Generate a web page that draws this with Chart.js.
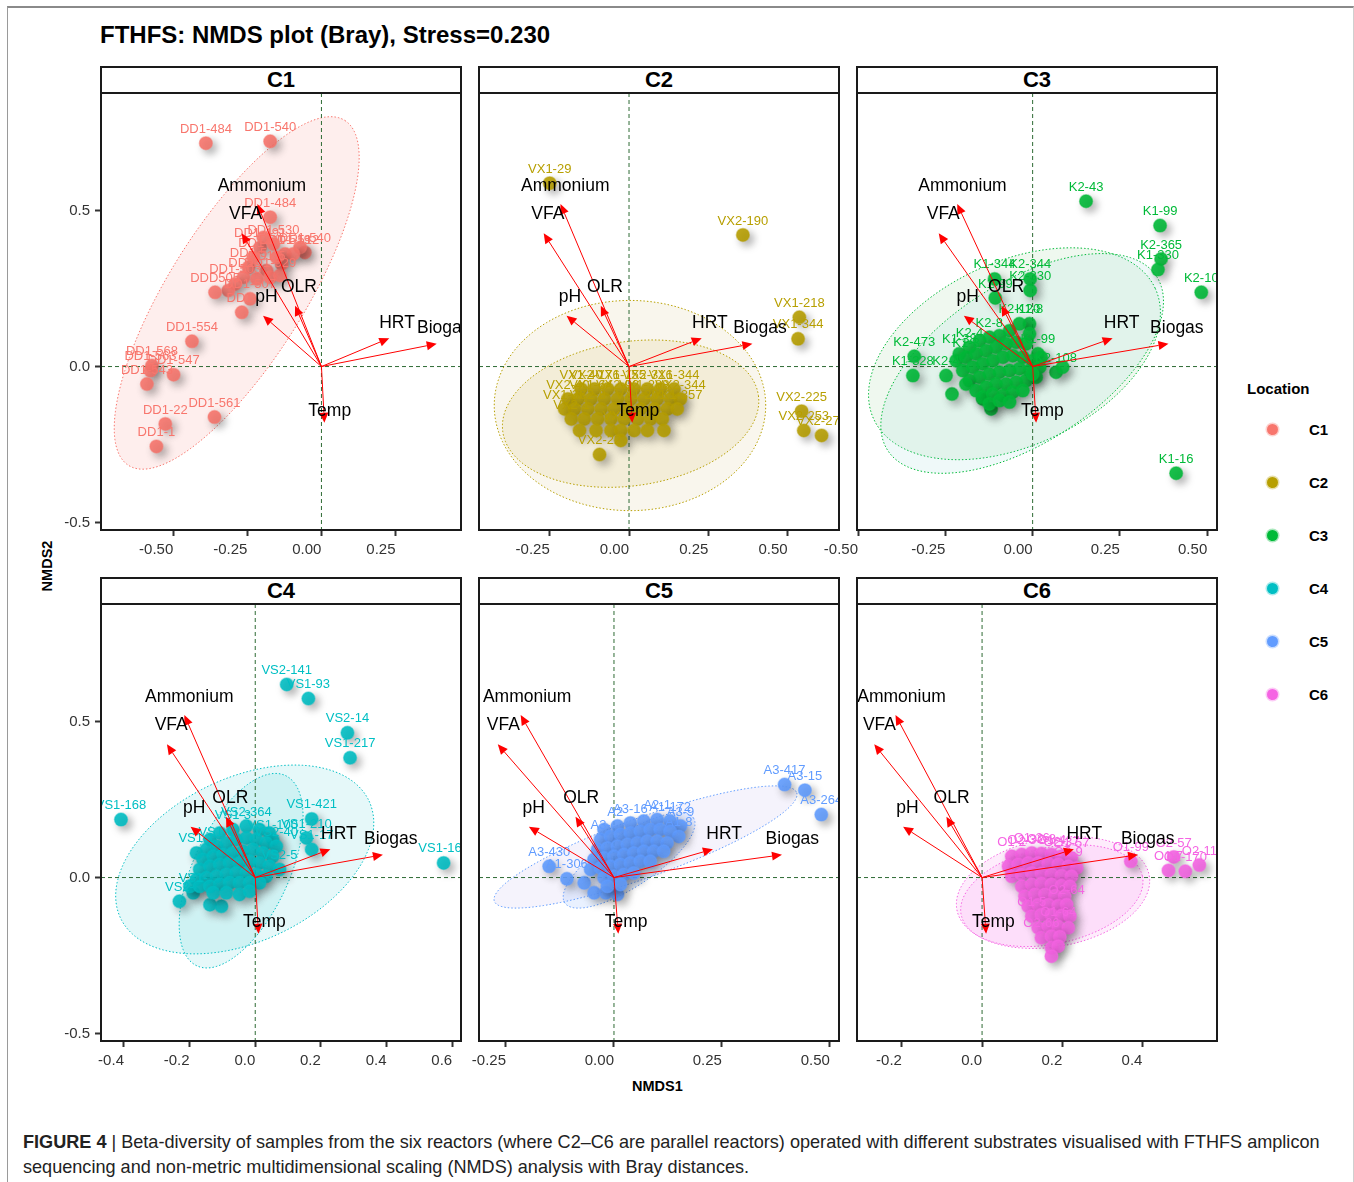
<!DOCTYPE html>
<html><head><meta charset="utf-8">
<script src="https://cdn.jsdelivr.net/npm/chart.js@4.4.1/dist/chart.umd.min.js"></script>
<style>
html,body{margin:0;padding:0;background:#fff;}
body{width:1354px;height:1182px;position:relative;overflow:hidden;font-family:"Liberation Sans",Arial,Helvetica,sans-serif;color:#000;}
#frame{position:absolute;left:7px;top:6px;width:1345px;height:1200px;border-top:2px solid #8a8a8a;border-left:1px solid #9a9a9a;border-right:1px solid #d0d0d0;}
#title{position:absolute;left:100px;top:21px;font-size:24px;font-weight:bold;white-space:nowrap;}
.strip{position:absolute;box-sizing:border-box;height:28px;border:2px solid #1a1a1a;background:#fff;display:flex;align-items:center;justify-content:center;font-weight:bold;font-size:22px;}
canvas{position:absolute;}
.axt{position:absolute;font-weight:bold;font-size:14.5px;white-space:nowrap;}
#legtitle{position:absolute;left:1247px;top:380px;font-weight:bold;font-size:15px;}
.legdot{position:absolute;width:11px;height:11px;border-radius:50%;}
.leglab{position:absolute;left:1309px;font-weight:bold;font-size:15px;}
.cap{position:absolute;left:23px;font-size:18.1px;color:#222;white-space:nowrap;}
</style></head>
<body>
<div id="frame"></div>
<div id="title">FTHFS: NMDS plot (Bray), Stress=0.230</div>
<div class="axt" style="left:22px;top:558px;transform:rotate(-90deg);transform-origin:50% 50%;">NMDS2</div>
<div class="axt" style="left:632px;top:1078px;">NMDS1</div>
<div id="legtitle">Location</div>
<div class="cap" style="top:1132px;"><b>FIGURE 4</b> | Beta-diversity of samples from the six reactors (where C2–C6 are parallel reactors) operated with different substrates visualised with FTHFS amplicon</div>
<div class="cap" style="top:1157px;">sequencing and non-metric multidimensional scaling (NMDS) analysis with Bray distances.</div>
<script>
// ---------------- DATA ----------------
const panelNames = ["C1","C2","C3","C4","C5","C6"];
const groupColors = ["#F8766D","#B79F00","#00BA38","#00BFC4","#619CFF","#F564E3"];

const xTicks = [[-0.5,-0.25,0,0.25],[-0.25,0,0.25,0.5],[-0.5,-0.25,0,0.25,0.5],[-0.4,-0.2,0,0.2,0.4,0.6],[-0.25,0,0.25,0.5],[-0.2,0,0.2,0.4]];
const xTickLabels = [["-0.50","-0.25","0.00","0.25"],["-0.25","0.00","0.25","0.50"],["-0.50","-0.25","0.00","0.25","0.50"],["-0.4","-0.2","0.0","0.2","0.4","0.6"],["-0.25","0.00","0.25","0.50"],["-0.2","0.0","0.2","0.4"]];
const xMin = [-0.744,-0.473,-0.503,-0.470,-0.3125,-0.312];
const xMax = [0.471,0.662,0.528,0.627,0.521,0.586];
const yTicks = [-0.5,0,0.5];
const yTickLabels = ["-0.5","0.0","0.5"];
const yMin = -0.524, yMax = 0.877;

// envfit vectors (identical in every panel)
const envVars = ["Ammonium","VFA","pH","OLR","HRT","Biogas","Temp"];
const envX = [-0.216,-0.269,-0.197,-0.089,0.229,0.389,0.010];
const envY = [0.521,0.427,0.163,0.195,0.091,0.073,-0.180];
const envLabelX = [-0.201,-0.256,-0.186,-0.076,0.255,0.413,0.028];
const envLabelY = [0.578,0.487,0.221,0.256,0.139,0.123,-0.143];

// sample scores [NMDS1, NMDS2, label]
const c1Points = [
 [-0.390,0.716,"DD1-484"],[-0.173,0.722,"DD1-540"],[-0.173,0.479,"DD1-484"],
 [-0.207,0.382,"DD1-491"],[-0.196,0.414,""],[-0.162,0.393,"DD1-530"],[-0.123,0.361,"DD1-519"],
 [-0.056,0.366,"DD1-540"],[-0.072,0.382,""],[-0.095,0.361,"DD1-512"],[-0.134,0.329,""],
 [-0.185,0.308,"DD1-5"],[-0.246,0.318,"DD1-5"],[-0.263,0.286,"DD1-"],[-0.218,0.281,""],
 [-0.173,0.286,"DD1-529"],[-0.140,0.292,""],[-0.230,0.350,"DD1-"],[-0.151,0.350,""],
 [-0.291,0.265,"DD1-503"],[-0.314,0.244,""],[-0.359,0.238,"DDD505"],[-0.241,0.217,"DD1-507"],
 [-0.269,0.174,"DD1-"],[-0.437,0.081,"DD1-554"],[-0.572,0.003,"DD1-568"],[-0.577,-0.013,"DD1-563"],
 [-0.589,-0.056,"DD1-543"],[-0.499,-0.026,"DD1-547"],[-0.361,-0.162,"DD1-561"],
 [-0.527,-0.184,"DD1-22"],[-0.557,-0.256,"DD1-1"]
];
const c2Points = [
 [-0.250,0.588,"VX1-29"],[0.359,0.422,"VX2-190"],[0.537,0.158,"VX1-218"],[0.533,0.089,"VX1-344"],
 [0.544,-0.143,"VX2-225"],[0.551,-0.205,"VX2-253"],[0.607,-0.221,"VX2-274"],[-0.093,-0.282,"VX2-22"],
 [-0.151,-0.072,"VX1-40"],[-0.109,-0.072,"VX2-176"],[-0.067,-0.072,""],[-0.026,-0.072,"VX1-155"],[0.016,-0.072,""],[0.058,-0.072,"VX2-316"],[0.099,-0.072,""],[0.142,-0.072,"VX1-344"],
 [-0.193,-0.104,"VX2-40"],[-0.161,-0.104,""],[-0.120,-0.104,"VX1-64"],[-0.078,-0.104,""],[-0.036,-0.104,"VX2-92"],[0.006,-0.104,""],[0.048,-0.104,"VX1-288"],[0.089,-0.104,""],[0.131,-0.104,""],[0.162,-0.104,"VX2-344"],
 [-0.203,-0.136,"VX1-36"],[-0.172,-0.136,""],[-0.130,-0.136,"VX2-8"],[-0.088,-0.136,""],[-0.047,-0.136,""],[-0.005,-0.136,""],[0.037,-0.136,"VX1-201"],[0.079,-0.136,""],[0.121,-0.136,""],[0.152,-0.136,"VX1-357"],
 [-0.182,-0.168,"VX2-1"],[-0.141,-0.168,""],[-0.099,-0.168,""],[-0.057,-0.168,""],[-0.015,-0.168,""],[0.027,-0.168,""],[0.068,-0.168,""],[0.105,-0.168,""],
 [-0.156,-0.205,""],[-0.104,-0.205,""],[-0.057,-0.205,""],[-0.026,-0.205,"VX2-9"],[0.016,-0.205,""],[0.058,-0.205,""],[0.110,-0.205,""],
 [-0.026,-0.237,""]
];
const c3Points = [
 [0.153,0.530,"K2-43"],[0.365,0.452,"K1-99"],[0.368,0.345,"K2-365"],[0.359,0.311,"K1-330"],
 [0.483,0.238,"K2-10"],[0.411,-0.342,"K1-16"],[-0.339,0.033,"K2-473"],[-0.343,-0.029,"K1-328"],
 [-0.231,-0.088,""],[-0.248,-0.029,"K2-4"],[-0.109,0.281,"K1-344"],[-0.107,0.220,"K1-99"],
 [-0.007,0.281,"K2-344"],[-0.007,0.244,"K2-330"],[-0.009,0.137,"K1-8"],[0.067,-0.018,"K2-108"],
 [0.086,-0.002,""],[-0.119,-0.136,""],[-0.143,-0.104,""],
 [-0.210,0.041,"K1-38"],[-0.181,0.062,"K2-4"],[-0.152,0.083,""],[-0.124,0.094,"K2-8"],[-0.095,0.099,""],[-0.066,0.115,""],[-0.038,0.137,"K2-120"],[-0.009,0.105,""],
 [-0.219,0.019,""],[-0.191,0.030,"K1-3"],[-0.162,0.041,""],[-0.133,0.051,""],[-0.105,0.062,""],[-0.076,0.073,""],[-0.047,0.078,""],[-0.019,0.073,""],[0.015,0.041,"K1-99"],
 [-0.200,-0.013,""],[-0.171,-0.002,""],[-0.143,0.009,""],[-0.114,0.019,""],[-0.085,0.030,""],[-0.057,0.035,""],[-0.028,0.030,""],[0.000,0.019,""],[0.024,0.030,""],
 [-0.181,-0.045,""],[-0.152,-0.034,""],[-0.124,-0.024,""],[-0.095,-0.018,""],[-0.066,-0.013,""],[-0.038,-0.007,""],[-0.009,-0.013,""],[0.020,-0.002,""],
 [-0.191,-0.056,""],[-0.162,-0.077,""],[-0.133,-0.066,""],[-0.105,-0.056,""],[-0.076,-0.056,""],[-0.047,-0.050,""],[-0.019,-0.045,""],[0.010,-0.034,""],
 [-0.143,-0.098,""],[-0.114,-0.088,""],[-0.085,-0.093,""],[-0.057,-0.082,""],[-0.028,-0.077,""],
 [-0.124,-0.120,""],[-0.095,-0.109,""],[-0.066,-0.114,""],[0.000,-0.024,""]
];
const c4Points = [
 [0.096,0.619,"VS2-141"],[0.162,0.574,"VS1-93"],[0.281,0.464,"VS2-14"],[0.289,0.384,"VS1-217"],
 [-0.409,0.186,"VS1-168"],[0.172,0.188,"VS1-421"],[0.156,0.127,"VS1-210"],[0.172,0.090,"VS1-17"],
 [0.574,0.047,"VS1-163"],[-0.179,0.079,"VS1-1"],[-0.231,-0.076,"VS2-"],[-0.189,-0.049,"VS1-"],
 [-0.138,-0.087,""],[-0.103,-0.092,""],
 [-0.138,0.122,""],[-0.108,0.143,""],[-0.068,0.154,"VS1-3"],[-0.027,0.165,"VS2-364"],[0.013,0.154,""],[0.043,0.143,""],[0.053,0.122,"VS1-100"],
 [-0.149,0.090,""],[-0.118,0.100,"VS1-9"],[-0.088,0.111,""],[-0.058,0.122,""],[-0.027,0.127,""],[0.003,0.122,""],[0.033,0.111,""],[0.064,0.100,"VS2-40"],
 [-0.159,0.058,""],[-0.128,0.068,""],[-0.098,0.074,""],[-0.068,0.079,""],[-0.037,0.084,""],[-0.007,0.090,""],[0.023,0.079,""],[0.053,0.068,""],
 [-0.169,0.026,""],[-0.138,0.036,""],[-0.108,0.042,""],[-0.078,0.047,""],[-0.048,0.047,""],[-0.017,0.052,""],[0.013,0.047,""],[0.043,0.036,""],[0.074,0.026,"VS2-5"],
 [-0.179,-0.006,""],[-0.149,-0.001,""],[-0.118,0.004,""],[-0.088,0.010,""],[-0.058,0.015,""],[-0.027,0.015,""],[0.003,0.010,""],[0.033,0.004,""],
 [-0.199,-0.028,""],[-0.169,-0.028,""],[-0.138,-0.028,""],[-0.108,-0.022,""],[-0.078,-0.017,""],[-0.048,-0.017,""],[-0.017,-0.017,""],[0.013,-0.017,""],
 [-0.128,-0.049,""],[-0.088,-0.049,""],[-0.048,-0.054,""],[-0.017,-0.044,""]
];
const c5Points = [
 [0.395,0.298,"A3-417"],[0.442,0.280,"A3-15"],[0.480,0.202,"A3-264"],[-0.150,0.036,"A3-430"],
 [-0.109,-0.004,"A1-306"],[-0.069,-0.017,""],[-0.046,-0.049,""],[-0.019,-0.049,""],[0.008,-0.054,""],
 [-0.023,0.154,""],[0.008,0.165,"A2-"],[0.038,0.175,"A3-16"],[0.069,0.181,""],[0.100,0.186,"A2-1"],[0.130,0.181,"A1-172"],[0.154,0.165,"A3-9"],
 [-0.031,0.122,"A3-"],[-0.008,0.132,""],[0.015,0.138,""],[0.038,0.143,""],[0.061,0.148,""],[0.084,0.154,""],[0.107,0.154,""],[0.130,0.148,""],[0.150,0.132,"A1-8"],
 [-0.038,0.090,""],[-0.015,0.095,""],[0.008,0.100,""],[0.031,0.106,""],[0.054,0.111,""],[0.077,0.116,""],[0.100,0.116,""],[0.123,0.111,""],
 [-0.046,0.058,""],[-0.023,0.063,""],[0.000,0.068,""],[0.023,0.074,""],[0.046,0.079,""],[0.069,0.084,""],[0.092,0.084,""],[0.115,0.084,""],
 [-0.054,0.026,""],[-0.031,0.031,""],[-0.008,0.036,""],[0.015,0.042,""],[0.038,0.047,""],[0.061,0.052,""],[0.084,0.052,""],
 [-0.023,-0.001,""],[0.000,0.004,""],[0.023,0.010,""],[0.046,0.015,""],[-0.015,-0.028,""],[0.015,-0.022,""]
];
const c6Points = [
 [0.371,0.052,"O1-99"],[0.478,0.066,"O2-57"],[0.465,0.023,"O1-7"],[0.507,0.020,"O1-170"],[0.542,0.040,"O2-11"],
 [0.074,0.068,"O1-2"],[0.099,0.074,"O2-3"],[0.124,0.079,"O1-36"],[0.148,0.077,"O2-8"],[0.173,0.074,"O1-4"],[0.198,0.068,"O2-37"],[0.223,0.063,"O1-57"],
 [0.066,0.036,""],[0.090,0.042,""],[0.115,0.047,""],[0.140,0.047,""],[0.165,0.045,""],[0.190,0.042,""],[0.215,0.036,"O2-9"],[0.236,0.031,""],
 [0.074,0.004,""],[0.099,0.010,""],[0.124,0.015,""],[0.148,0.013,""],[0.173,0.010,""],[0.198,0.006,""],[0.223,0.004,""],
 [0.099,-0.028,""],[0.124,-0.022,""],[0.148,-0.019,""],[0.173,-0.022,""],[0.198,-0.026,""],[0.219,-0.028,""],
 [0.107,-0.060,""],[0.132,-0.054,""],[0.157,-0.054,""],[0.182,-0.058,""],[0.206,-0.060,""],
 [0.115,-0.092,""],[0.140,-0.087,""],[0.165,-0.087,""],[0.190,-0.090,""],[0.211,-0.087,"O2-64"],
 [0.124,-0.124,"O1-5"],[0.148,-0.119,""],[0.173,-0.119,""],[0.198,-0.122,""],[0.219,-0.124,""],
 [0.140,-0.161,""],[0.165,-0.156,""],[0.190,-0.158,"O1-64"],[0.215,-0.161,""],
 [0.148,-0.193,"O2-66"],[0.173,-0.188,""],[0.194,-0.190,""],[0.173,-0.225,""],[0.190,-0.220,""],[0.173,-0.252,""]
];
const panelPoints = [c1Points,c2Points,c3Points,c4Points,c5Points,c6Points];

// 95% ellipses: [centreX, centreY, u1X, u1Y, u2X, u2Y] (conjugate semi-diameters, data units)
const c1Ellipses = [[-0.286,0.236,0.365,0.553,0.194,-0.116]];
const c2Ellipses = [[0.003,-0.125,0.428,0.000,0.000,0.337],[0.005,-0.151,0.403,0.058,0.031,-0.229]];
const c3Ellipses = [[-0.052,0.041,0.403,0.210,0.111,-0.267],[-0.030,0.010,0.385,0.279,0.125,-0.215]];
const c4Ellipses = [[-0.032,0.058,0.379,0.187,0.105,-0.238],[-0.043,0.022,0.135,0.305,0.132,-0.065]];
const c5Ellipses = [[0.073,0.098,0.350,0.174,0.023,-0.090],[0.035,0.055,0.149,0.136,0.033,-0.070]];
const c6Ellipses = [[0.177,-0.048,0.240,0.054,0.023,-0.171],[0.174,-0.058,0.226,0.062,0.025,-0.151]];
const panelEllipses = [c1Ellipses,c2Ellipses,c3Ellipses,c4Ellipses,c5Ellipses,c6Ellipses];
const ellipseFills = [
 ["rgba(248,118,109,0.12)"],
 ["rgba(200,170,80,0.10)","rgba(200,170,60,0.12)"],
 ["rgba(120,200,120,0.12)","rgba(100,200,200,0.10)"],
 ["rgba(0,191,196,0.10)","rgba(0,191,196,0.10)"],
 ["rgba(180,160,230,0.13)","rgba(97,156,255,0.14)"],
 ["rgba(245,100,227,0.12)","rgba(245,100,227,0.10)"]
];

// ---------------- LAYOUT ----------------
const FONT = '"Liberation Sans", Arial, sans-serif';
const plotLeft = [101,479,857];
const plotTop = [93,604];
const plotW = 360, plotH = 437;
const padL = 50, padR = 12, padT = 4, axH = 40;

// legend
panelNames.forEach((n,i)=>{
  const cy = 430 + i*53;
  const d = document.createElement('div');
  d.className = 'legdot';
  d.style.left = (1273-6)+'px'; d.style.top = (cy-6)+'px';
  d.style.background = groupColors[i];
  d.style.boxShadow = '0 0 0 1.5px ' + groupColors[i] + '55';
  document.body.appendChild(d);
  const l = document.createElement('div');
  l.className = 'leglab'; l.textContent = n; l.style.top = (cy-9)+'px';
  document.body.appendChild(l);
});

function makePlugin(p) {
  const color = groupColors[p];
  return {
    id: 'nmds' + p,
    beforeDatasetsDraw(chart) {
      const {ctx, chartArea: a, scales: {x, y}} = chart;
      ctx.save();
      ctx.beginPath(); ctx.rect(a.left, a.top, a.width, a.height); ctx.clip();
      panelEllipses[p].forEach((e, i) => {
        ctx.beginPath();
        for (let k = 0; k <= 180; k++) {
          const t = k / 180 * 2 * Math.PI;
          const px = x.getPixelForValue(e[0] + e[2]*Math.cos(t) + e[4]*Math.sin(t));
          const py = y.getPixelForValue(e[1] + e[3]*Math.cos(t) + e[5]*Math.sin(t));
          if (k) ctx.lineTo(px, py); else ctx.moveTo(px, py);
        }
        ctx.closePath();
        ctx.fillStyle = ellipseFills[p][i]; ctx.fill();
        ctx.setLineDash([1.5, 2]); ctx.lineWidth = 1; ctx.strokeStyle = color; ctx.stroke();
      });
      ctx.setLineDash([4, 3]); ctx.lineWidth = 1; ctx.strokeStyle = '#2e6b34';
      const x0 = x.getPixelForValue(0), y0 = y.getPixelForValue(0);
      ctx.beginPath(); ctx.moveTo(x0, a.top); ctx.lineTo(x0, a.bottom); ctx.stroke();
      ctx.beginPath(); ctx.moveTo(a.left, y0); ctx.lineTo(a.right, y0); ctx.stroke();
      ctx.restore();
    },
    beforeDatasetDraw(chart) {
      const c = chart.ctx; c.save();
      c.shadowColor = 'rgba(0,0,0,0.38)'; c.shadowBlur = 9; c.shadowOffsetX = 4; c.shadowOffsetY = 4;
    },
    afterDatasetDraw(chart) { chart.ctx.restore(); },
    afterDatasetsDraw(chart) {
      const {ctx, chartArea: a, scales: {x, y}} = chart;
      ctx.save();
      ctx.beginPath(); ctx.rect(a.left, a.top, a.width, a.height); ctx.clip();
      ctx.font = '13px ' + FONT; ctx.textAlign = 'center'; ctx.textBaseline = 'middle';
      ctx.fillStyle = color;
      panelPoints[p].forEach(pt => {
        if (!pt[2]) return;
        ctx.fillText(pt[2], x.getPixelForValue(pt[0]), y.getPixelForValue(pt[1]) - 14);
      });
      const ox = x.getPixelForValue(0), oy = y.getPixelForValue(0);
      ctx.strokeStyle = '#ff0000'; ctx.fillStyle = '#ff0000'; ctx.lineWidth = 1;
      envVars.forEach((v, i) => {
        const tx = x.getPixelForValue(envX[i]), ty = y.getPixelForValue(envY[i]);
        const ang = Math.atan2(ty - oy, tx - ox), L = 10, W = 4.5;
        const bx = tx - L*Math.cos(ang), by = ty - L*Math.sin(ang);
        ctx.beginPath(); ctx.moveTo(ox, oy); ctx.lineTo(bx, by); ctx.stroke();
        ctx.beginPath(); ctx.moveTo(tx, ty);
        ctx.lineTo(bx + W*Math.sin(ang), by - W*Math.cos(ang));
        ctx.lineTo(bx - W*Math.sin(ang), by + W*Math.cos(ang));
        ctx.closePath(); ctx.fill();
      });
      ctx.font = '17.5px ' + FONT; ctx.fillStyle = '#000';
      envVars.forEach((v, i) => {
        ctx.fillText(v, x.getPixelForValue(envLabelX[i]), y.getPixelForValue(envLabelY[i]));
      });
      ctx.restore();
      ctx.save(); ctx.strokeStyle = '#1a1a1a'; ctx.lineWidth = 2;
      ctx.strokeRect(a.left, a.top, a.width, a.height); ctx.restore();
    }
  };
}

function buildChart(cv, p, showY) {
  return new Chart(cv.getContext('2d'), {
    type: 'scatter',
    data: { datasets: [{
      data: panelPoints[p].map(pt => ({x: pt[0], y: pt[1]})),
      backgroundColor: groupColors[p] + 'e6',
      borderColor: groupColors[p] + '70',
      borderWidth: 1.5, pointRadius: 6.5, pointHoverRadius: 6.5
    }]},
    options: {
      responsive: false, maintainAspectRatio: false, animation: false, events: [],
      layout: { padding: { left: 0, right: padR, top: padT, bottom: 0 } },
      plugins: { legend: { display: false }, tooltip: { enabled: false } },
      scales: {
        x: {
          type: 'linear', min: xMin[p], max: xMax[p],
          afterBuildTicks: s => { s.ticks = xTicks[p].map(v => ({value: v})); },
          afterFit: s => { s.height = axH; s.paddingLeft = 0; s.paddingRight = 0; },
          ticks: { align: 'end', padding: 5, color: '#333', font: { size: 15, family: FONT },
                   callback: (v, i) => xTickLabels[p][i] },
          grid: { display: true, drawOnChartArea: false, drawTicks: true, tickLength: 6, tickWidth: 2, tickColor: '#333' },
          border: { display: false }
        },
        y: {
          type: 'linear', min: yMin, max: yMax,
          afterBuildTicks: s => { s.ticks = yTicks.map(v => ({value: v})); },
          afterFit: s => { s.width = padL; s.paddingTop = 0; s.paddingBottom = 0; },
          ticks: { display: showY, padding: 5, color: '#333', font: { size: 15, family: FONT },
                   callback: (v, i) => yTickLabels[i] },
          grid: { display: showY, drawOnChartArea: false, drawTicks: true, tickLength: 6, tickWidth: 2, tickColor: '#333' },
          border: { display: false }
        }
      }
    },
    plugins: [makePlugin(p)]
  });
}

panelNames.forEach((name, p) => {
  const col = p % 3, row = Math.floor(p / 3);
  const L = plotLeft[col], T = plotTop[row];
  const strip = document.createElement('div');
  strip.className = 'strip'; strip.textContent = name;
  strip.style.left = (L-1)+'px'; strip.style.width = (plotW+2)+'px'; strip.style.top = (T-27)+'px';

  const cv = document.createElement('canvas');
  const W0 = padL + plotW + padR, H0 = padT + plotH + axH;
  cv.width = W0; cv.height = H0;
  cv.style.left = (L - padL) + 'px'; cv.style.top = (T - padT) + 'px';
  document.body.appendChild(cv);
  const showY = col === 0;
  let ch = buildChart(cv, p, showY);
  let a = ch.chartArea;
  const dh = Math.round(plotH - (a.bottom - a.top));
  const dw = Math.round(plotW - (a.right - a.left));
  if (dh !== 0 || dw !== 0) {
    ch.destroy();
    cv.width = W0 + dw; cv.height = H0 + dh;
    ch = buildChart(cv, p, showY);
    a = ch.chartArea;
  }
  cv.style.left = (L - a.left) + 'px';
  cv.style.top = (T - a.top) + 'px';
  document.body.appendChild(strip);
});
</script>
</body></html>
